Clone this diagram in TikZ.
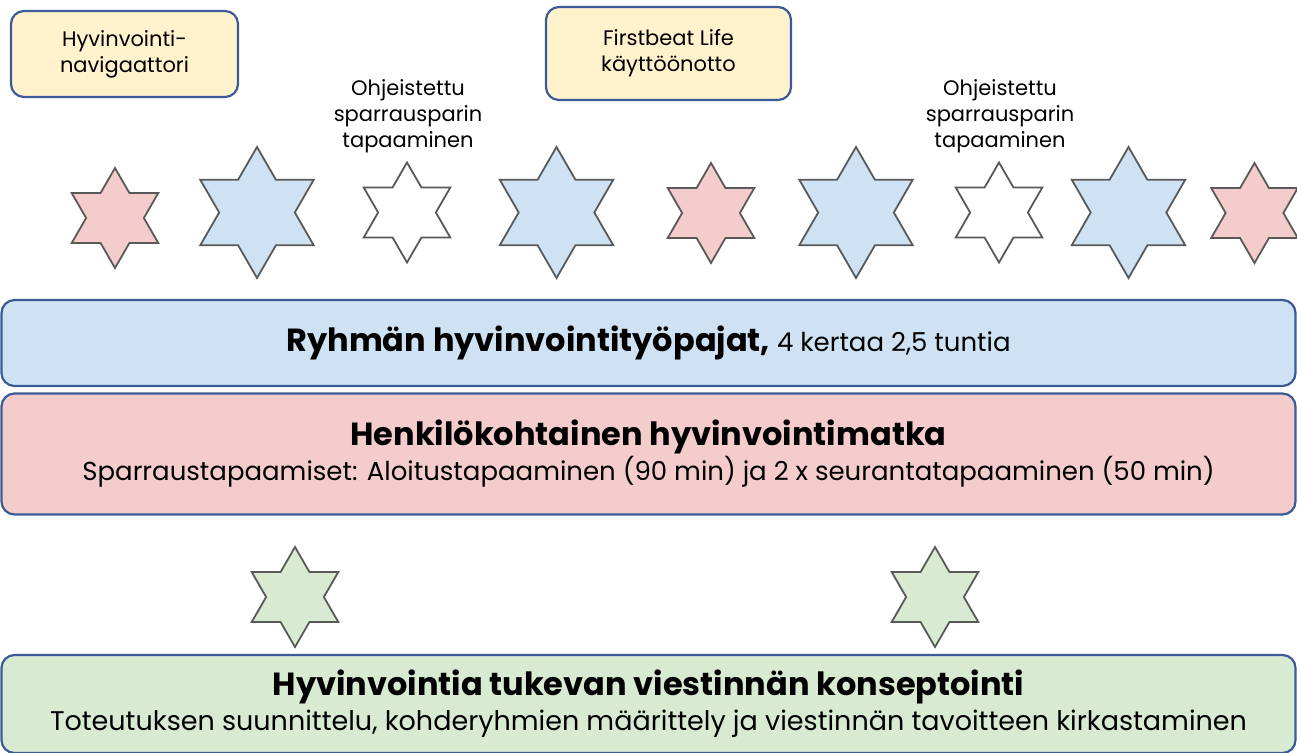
\documentclass[tikz,border=0pt]{standalone}
\usepackage{fontspec}
\setmainfont{Poppins}
\usepackage{tikz}
\usetikzlibrary{shapes.geometric}

\definecolor{sininen}{HTML}{CFE2F3}
\definecolor{punainen}{HTML}{F4CCCC}
\definecolor{vihrea}{HTML}{D9EAD3}
\definecolor{keltainen}{HTML}{FFF2CC}
\definecolor{reunus}{HTML}{3B5A96}
\definecolor{tahtiviiva}{HTML}{595959}

\begin{document}
\begin{tikzpicture}[x=1pt, y=-1pt,
  tahti/.style={star, star points=6, star point ratio=1.732, inner sep=0pt,
    draw=tahtiviiva, line width=1.8pt},
  laatikko/.style={draw=reunus, line width=2.2pt, rounded corners=13pt,
    inner sep=0pt, align=center, font=\fontsize{26}{35}\selectfont},
  pieni/.style={align=center, font=\fontsize{21}{26}\selectfont}]
\useasboundingbox (0,0) rectangle (1297,752);
%
\newcommand{\tahti}[5]{
  \node[tahti, fill=#5, minimum size=#4pt] (#1) at (#2, #3) {};
}
%
% ylarivi: laatikot ja ohjetekstit
\node[laatikko, pieni, fill=keltainen, minimum width=227pt, minimum height=86pt]
  (navi) at (124.5, 54) {Hyvinvointi-\\navigaattori};
\node[laatikko, pieni, fill=keltainen, minimum width=245pt, minimum height=93pt]
  (firstbeat) at (668.5, 53.5) {Firstbeat Life\\käyttöönotto};
\node[pieni] (ohje1) at (408, 116) {Ohjeistettu\\sparrausparin\\tapaaminen};
\node[pieni] (ohje2) at (1000, 116) {Ohjeistettu\\sparrausparin\\tapaaminen};
%
% tahdet
\tahti{p1}{115}{218}{100}{punainen}
\tahti{s1}{257}{212.5}{131}{sininen}
\tahti{v1}{407}{212.5}{100}{white}
\tahti{s2}{556.5}{212.5}{131}{sininen}
\tahti{p2}{711}{213}{100}{punainen}
\tahti{s3}{856}{212.5}{131}{sininen}
\tahti{v2}{999}{212.5}{100}{white}
\tahti{s4}{1128.5}{212.5}{131}{sininen}
\tahti{p3}{1254.5}{213}{100}{punainen}
%
% palkit
\node[laatikko, fill=sininen, minimum width=1294pt, minimum height=86pt]
  (tyopaja) at (648.5, 343)
  {{\fontsize{32}{35}\selectfont\bfseries Ryhmän hyvinvointityöpajat,} 4 kertaa 2,5 tuntia};
\node[laatikko, fill=punainen, minimum width=1294pt, minimum height=121pt]
  (matka) at (648.5, 454)
  {{\fontsize{32}{35}\selectfont\bfseries Henkilökohtainen hyvinvointimatka}\\
   Sparraustapaamiset: Aloitustapaaminen (90 min) ja 2 x seurantatapaaminen (50 min)};
%
\tahti{g1}{295}{597}{100}{vihrea}
\tahti{g2}{935}{597}{100}{vihrea}
%
\node[laatikko, fill=vihrea, minimum width=1294pt, minimum height=98pt]
  (viestinta) at (648.5, 704)
  {{\fontsize{32}{35}\selectfont\bfseries Hyvinvointia tukevan viestinnän konseptointi}\\
   {\fontsize{27}{35}\selectfont Toteutuksen suunnittelu, kohderyhmien määrittely ja viestinnän tavoitteen kirkastaminen}};
%
\end{tikzpicture}
\end{document}
